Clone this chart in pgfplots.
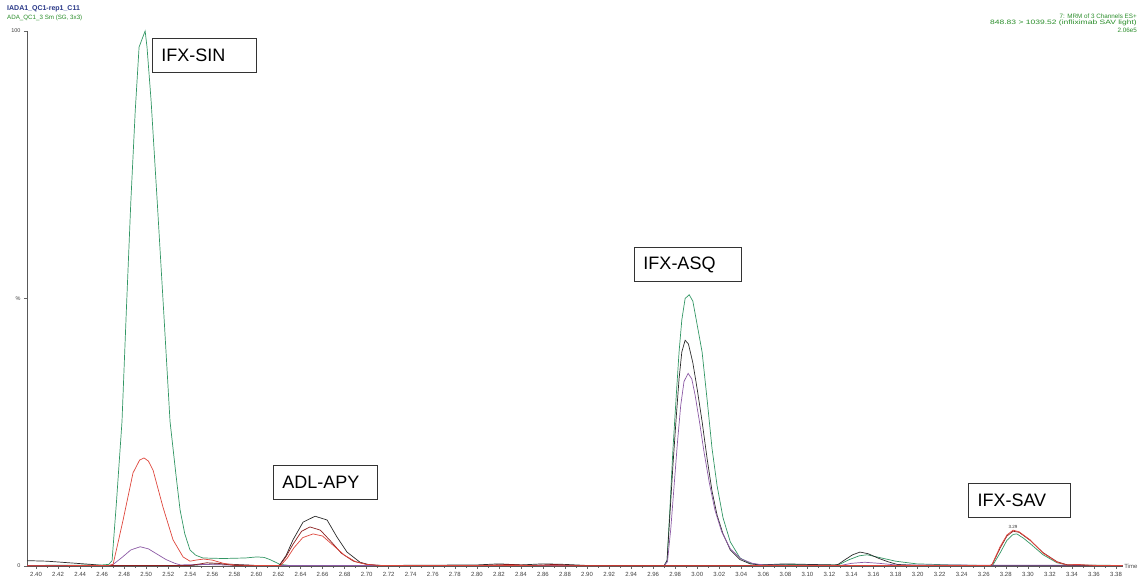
\documentclass[border=0pt]{standalone}
\usepackage{fontspec}
\setmainfont{Liberation Sans}
\usepackage{graphicx}
\usepackage{pgfplots}
\pgfplotsset{compat=1.18}
\definecolor{cgreen}{RGB}{50,150,100}
\definecolor{cred}{RGB}{222,70,60}
\definecolor{cpurple}{RGB}{140,90,165}
\definecolor{cblack}{RGB}{43,43,43}
\definecolor{cmaroon}{RGB}{139,30,30}
\definecolor{headblue}{RGB}{40,55,135}
\definecolor{headgreen}{RGB}{40,140,40}
\begin{document}
\begin{tikzpicture}[x=1pt,y=1pt]
\useasboundingbox (0,0) rectangle (1139,578);
\begin{axis}[
  at={(27pt,12pt)}, anchor=south west,
  width=1096pt, height=535pt, scale only axis,
  xmin=2.3918, xmax=3.3864, ymin=0, ymax=100,
  axis x line*=bottom, axis y line*=left,
  xtick={2.40,2.42,...,3.39},
  minor x tick num=1,
  ytick={0,50,100}, yticklabels={0,\%,100},
  tick align=outside, major tick length=3pt, minor tick length=2pt,
  tick style={color=black!60, line width=0.5pt},
  axis line style={black!65, line width=0.9pt},
  x tick label style={font=\fontsize{6}{7}\selectfont, text=black!75,
    /pgf/number format/.cd, fixed, fixed zerofill, precision=2, assume math mode=true},
  y tick label style={font=\fontsize{5.5}{6}\selectfont, text=black!75,
    /pgf/number format/assume math mode=true},
  clip=false,
  every axis plot/.append style={line width=0.7pt},
]
\addplot[cgreen] coordinates {(2.392,0.1)(2.43,0.15)(2.46,0.2)(2.466,0.3)(2.469,1)(2.473,12)(2.478,27)(2.482,48)(2.486,68)(2.490,85)(2.4935,97)(2.499,100)(2.5007,97)(2.5044,87)(2.510,68)(2.516,47)(2.5216,27)(2.527,17)(2.5307,10.5)(2.535,6)(2.5397,3)(2.545,2)(2.5515,1.5)(2.57,1.4)(2.59,1.5)(2.6005,1.7)(2.607,1.6)(2.6123,1.2)(2.6214,0.3)(2.63,0.1)(2.70,0.1)(2.80,0.1)(2.90,0.1)(2.970,0.1)(2.9726,1)(2.975,10)(2.978,22)(2.981,32)(2.9835,40)(2.986,46)(2.989,50)(2.9927,50.7)(2.996,49.5)(3.000,45)(3.0044,40)(3.009,31)(3.0134,22)(3.018,15)(3.0234,9)(3.030,4.5)(3.0388,1.5)(3.048,0.5)(3.057,0.2)(3.08,0.3)(3.11,0.2)(3.128,0.2)(3.138,1.2)(3.147,1.9)(3.154,2.1)(3.165,1.6)(3.18,0.9)(3.199,0.4)(3.23,0.2)(3.26,0.1)(3.268,0.1)(3.275,2.5)(3.281,4.8)(3.2866,5.9)(3.290,6.0)(3.296,5.2)(3.302,4.2)(3.3138,2.1)(3.3265,0.6)(3.336,0.2)(3.386,0.1)};
\addplot[cblack] coordinates {(2.392,1.0)(2.41,0.9)(2.43,0.6)(2.45,0.3)(2.46,0.1)(2.54,0.1)(2.56,0.4)(2.58,0.3)(2.60,0.1)(2.62,0.1)(2.6214,0.3)(2.627,2)(2.6332,4.9)(2.6423,8.2)(2.6532,9.3)(2.6641,8.6)(2.6731,5.4)(2.6822,2.6)(2.694,0.7)(2.703,0.2)(2.715,0.1)(2.80,0.2)(2.82,0.4)(2.84,0.2)(2.86,0.4)(2.88,0.3)(2.90,0.1)(2.970,0.1)(2.9726,1)(2.975,9)(2.978,19)(2.981,28)(2.9835,35)(2.986,40)(2.989,42.2)(2.992,41.5)(2.996,38)(3.000,33)(3.0044,27)(3.009,20)(3.0134,14)(3.018,9.5)(3.0234,6)(3.030,3)(3.0388,1.2)(3.048,0.4)(3.057,0.2)(3.08,0.4)(3.10,0.3)(3.125,0.2)(3.1278,0.3)(3.135,1.3)(3.141,2.1)(3.1477,2.6)(3.155,2.3)(3.165,1.4)(3.173,0.8)(3.1813,0.3)(3.20,0.1)(3.386,0.1)};
\addplot[cpurple] coordinates {(2.392,0.1)(2.467,0.1)(2.470,0.3)(2.478,1.6)(2.486,3.0)(2.4945,3.6)(2.502,3.2)(2.510,2.2)(2.518,1.2)(2.526,0.5)(2.531,0.2)(2.55,0.3)(2.57,0.2)(2.60,0.1)(2.970,0.1)(2.973,0.8)(2.976,7)(2.979,15)(2.982,23)(2.985,30)(2.988,34.5)(2.9917,36)(2.995,35)(2.998,32)(3.002,27)(3.006,21.5)(3.011,15.5)(3.016,10.5)(3.022,6.5)(3.030,3.2)(3.040,1.3)(3.050,0.5)(3.06,0.2)(3.13,0.1)(3.14,0.5)(3.152,0.7)(3.165,0.5)(3.18,0.2)(3.386,0.1)};
\addplot[cmaroon] coordinates {(2.392,0.05)(2.54,0.1)(2.555,0.6)(2.565,0.5)(2.58,0.1)(2.621,0.1)(2.627,1.8)(2.633,4.0)(2.641,6.5)(2.6486,7.3)(2.658,6.7)(2.668,4.5)(2.677,2.4)(2.688,0.9)(2.70,0.3)(2.712,0.1)(2.80,0.1)(2.83,0.3)(2.85,0.1)(2.87,0.3)(2.89,0.1)(3.266,0.1)(3.268,0.4)(3.275,3.4)(3.281,5.6)(3.2866,6.5)(3.292,6.3)(3.302,4.8)(3.3138,2.5)(3.3265,0.8)(3.336,0.2)(3.386,0.05)};
\addplot[cred] coordinates {(2.392,0.05)(2.466,0.1)(2.4699,0.3)(2.474,4)(2.479,8.6)(2.488,17.4)(2.494,19.8)(2.498,20.2)(2.502,19.6)(2.5062,17.9)(2.5152,11)(2.5243,4.9)(2.5334,1.7)(2.5397,0.9)(2.545,1.1)(2.552,1.3)(2.56,1.1)(2.57,0.5)(2.58,0.2)(2.60,0.1)(2.622,0.1)(2.628,1.5)(2.634,3.4)(2.642,5.3)(2.6514,6.0)(2.66,5.6)(2.67,3.8)(2.68,2.0)(2.69,0.8)(2.70,0.3)(2.712,0.1)(2.80,0.1)(2.90,0.05)(3.00,0.05)(3.10,0.1)(3.20,0.1)(3.266,0.1)(3.2675,0.3)(3.2748,3.6)(3.281,5.8)(3.2866,6.7)(3.292,6.4)(3.302,4.9)(3.3138,2.4)(3.3265,0.7)(3.335,0.2)(3.345,0.3)(3.36,0.1)(3.386,0.1)};
% peak labels
\tikzset{pk/.style={draw=black!80, line width=1pt, anchor=north west, minimum height=34pt,
  inner xsep=9pt, inner ysep=0pt, align=left, font=\fontsize{18}{20}\selectfont}}
\node[pk, text width=86pt] at (axis cs:2.5052,98.69) {IFX-SIN};
\node[pk, text width=89pt] at (axis cs:2.9426,59.63) {IFX-ASQ};
\node[pk, text width=86pt] at (axis cs:2.6150,18.88) {ADL-APY};
\node[pk, text width=84pt] at (axis cs:3.2457,15.51) {IFX-SAV};
\node[anchor=south, inner sep=0.5pt, font=\fontsize{4.5}{5}\selectfont, text=black!80] at (axis cs:3.2866,6.9) {3.29};
\node[anchor=west, inner sep=1pt, font=\fontsize{6}{7}\selectfont, text=black!70] at (rel axis cs:1,0) {Time};
\end{axis}
\node[anchor=west, inner sep=0pt, font=\fontsize{7}{8}\selectfont\bfseries, text=headblue] at (7,569) {IADA1\_QC1-rep1\_C11};
\node[anchor=west, inner sep=0pt, font=\fontsize{6.2}{7}\selectfont, text=headgreen] at (7,560) {ADA\_QC1\_3 Sm (SG, 3x3)};
\node[anchor=east, inner sep=0pt, font=\fontsize{6.3}{7}\selectfont, text=headgreen] at (1137,562) {7: MRM of 3 Channels ES+};
\node[anchor=east, inner sep=0pt, font=\fontsize{6.3}{7}\selectfont, text=headgreen] at (1137,555) {\scalebox{1.35}[1]{848.83 > 1039.52 (infliximab SAV light)}};
\node[anchor=east, inner sep=0pt, font=\fontsize{6.3}{7}\selectfont, text=headgreen] at (1137,548) {2.06e5};
\end{tikzpicture}
\end{document}
